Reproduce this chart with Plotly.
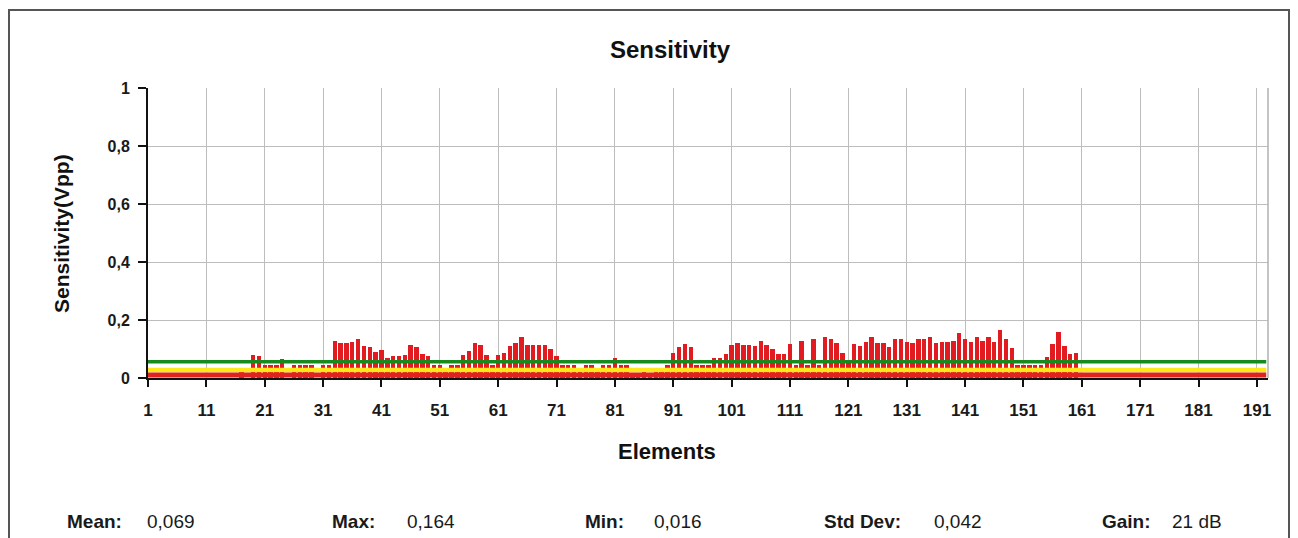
import plotly.graph_objects as go

# ---------------- data ----------------
elements = list(range(1, 193))

sens_17_32 = [0.035, 0.000, 0.080, 0.075, 0.045, 0.045, 0.045, 0.065, 0.000, 0.045,
              0.045, 0.045, 0.045, 0.000, 0.045, 0.045]
sens_33_82 = [0.128, 0.122, 0.120, 0.125, 0.134, 0.110, 0.107, 0.090, 0.095, 0.070,
              0.075, 0.075, 0.080, 0.113, 0.107, 0.083, 0.075, 0.045, 0.045, 0.030,
              0.045, 0.045, 0.080, 0.093, 0.120, 0.113, 0.080, 0.045, 0.080, 0.085,
              0.110, 0.120, 0.140, 0.113, 0.113, 0.113, 0.113, 0.100, 0.075, 0.045,
              0.045, 0.045, 0.020, 0.045, 0.045, 0.020, 0.045, 0.045, 0.068, 0.045]
sens_83_110 = [0.045, 0.018, 0.016, 0.020, 0.018, 0.020, 0.022, 0.045, 0.085, 0.107,
               0.117, 0.107, 0.045, 0.045, 0.045, 0.068, 0.068, 0.083, 0.113, 0.120,
               0.113, 0.113, 0.110, 0.127, 0.113, 0.100, 0.082, 0.082]
sens_111_161 = [0.117, 0.045, 0.127, 0.045, 0.134, 0.045, 0.142, 0.134, 0.120, 0.085,
                0.060, 0.117, 0.110, 0.124, 0.140, 0.120, 0.120, 0.107, 0.134, 0.134,
                0.124, 0.120, 0.135, 0.135, 0.140, 0.120, 0.123, 0.123, 0.127, 0.155,
                0.134, 0.124, 0.142, 0.127, 0.142, 0.123, 0.164, 0.135, 0.103, 0.045,
                0.045, 0.045, 0.045, 0.045, 0.072, 0.117, 0.158, 0.110, 0.083, 0.085,
                0.000]
sensitivity = ([0.0] * 16 + sens_17_32 + sens_33_82 + sens_83_110 + sens_111_161
               + [0.0] * (192 - 161))

threshold_names = ["green", "yellow", "red"]
threshold_values = [0.056, 0.028, 0.010]
threshold_colors = ["#178a1e", "#ffe81a", "#e0231f"]
threshold_widths = [3.5, 4.5, 5]

x_tick_vals = list(range(1, 192, 10))
y_tick_vals = [0, 0.2, 0.4, 0.6, 0.8, 1.0]
y_tick_text = ["0", "0,2", "0,4", "0,6", "0,8", "1"]

stats_labels = ["Mean:", "Max:", "Min:", "Std Dev:", "Gain:"]
stats_values = ["0,069", "0,164", "0,016", "0,042", "21 dB"]

# ---------------- figure ----------------
OFF = 8                      # page body margin
W, H = 1298 - OFF, 538 - OFF
L, R, T, B = 148, 1268, 88, 378   # plot area in window pixels
PW, PH = R - L, B - T


def px(x):
    return (x - L) / PW


def py(y):
    return (B - y) / PH


fig = go.Figure()
fig.add_trace(go.Bar(x=elements, y=sensitivity, width=0.76,
                     marker=dict(color="#e11b1f", line=dict(width=0)),
                     showlegend=False))
for name, v, c, w in zip(threshold_names, threshold_values, threshold_colors, threshold_widths):
    fig.add_trace(go.Scatter(x=[1, 192.6], y=[v, v], mode="lines", name=name,
                             line=dict(color=c, width=w), showlegend=False))

fig.update_layout(
    width=W, height=H,
    margin=dict(l=L - OFF, r=1298 - R, t=T - OFF, b=538 - B),
    paper_bgcolor="white", plot_bgcolor="white",
    bargap=0,
    font=dict(family="Arial, Liberation Sans", color="#1a1a1a"),
)
tickfont = dict(size=17, family="Arial", color="#1a1a1a", weight="bold")
fig.update_xaxes(range=[1, 192.9], tickvals=x_tick_vals, ticks="outside", ticklen=7,
                 tickwidth=2, tickcolor="#111", showline=True, linecolor="#111", linewidth=2,
                 showgrid=True, gridcolor="#bdbdbd", gridwidth=1, zeroline=False,
                 tickfont=tickfont, ticklabelstandoff=9)
fig.update_yaxes(range=[0, 1], tickvals=y_tick_vals, ticktext=y_tick_text, ticks="outside",
                 ticklen=8, tickwidth=2, tickcolor="#111", showline=True, linecolor="#111",
                 linewidth=2, showgrid=True, gridcolor="#bdbdbd", gridwidth=1, zeroline=False,
                 tickfont=dict(size=16, family="Arial", color="#1a1a1a", weight="bold"),
                 ticklabelstandoff=5)

# right edge of plot area
fig.add_shape(type="line", xref="paper", yref="paper", x0=1, x1=1, y0=0, y1=1,
              line=dict(color="#b0b0b0", width=1.5))
# outer frame
fig.add_shape(type="rect", xref="paper", yref="paper",
              x0=px(9), x1=px(1289), y0=py(580), y1=py(10),
              line=dict(color="#555", width=2), layer="below")

# titles
fig.add_annotation(text="<b>Sensitivity</b>", xref="paper", yref="paper",
                   x=px(670), y=py(50), xanchor="center", yanchor="middle", showarrow=False,
                   font=dict(size=24, family="Arial", color="#111"))
fig.add_annotation(text="<b>Elements</b>", xref="paper", yref="paper",
                   x=px(667), y=py(451), xanchor="center", yanchor="middle", showarrow=False,
                   font=dict(size=22, family="Arial", color="#111"))
fig.add_annotation(text="<b>Sensitivity(Vpp)</b>", xref="paper", yref="paper",
                   x=px(61), y=py(234), xanchor="center", yanchor="middle", showarrow=False,
                   textangle=-90, font=dict(size=21, family="Arial", color="#111"))

label_x = [65, 330, 583, 822, 1100]
value_x = [145, 405, 652, 932, 1170]
for lab, val, lx, vx in zip(stats_labels, stats_values, label_x, value_x):
    fig.add_annotation(text="<b>" + lab + "</b>", xref="paper", yref="paper",
                       x=px(lx), y=py(521), xanchor="left", yanchor="middle",
                       showarrow=False, font=dict(size=19, family="Arial", color="#1a1a1a"))
    fig.add_annotation(text=val, xref="paper", yref="paper",
                       x=px(vx), y=py(521), xanchor="left", yanchor="middle",
                       showarrow=False, font=dict(size=19, family="Arial", color="#1a1a1a"))

fig.write_html("out.html")
